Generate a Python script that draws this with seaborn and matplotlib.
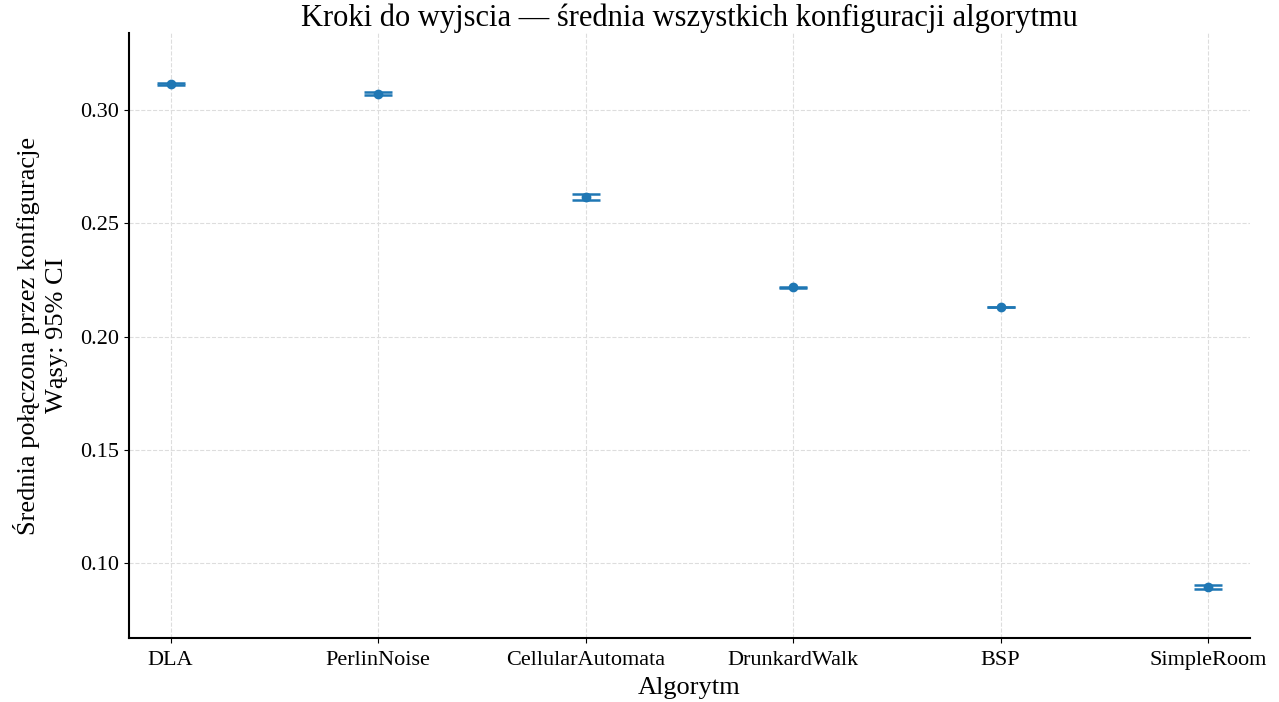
import seaborn as sns
import matplotlib.pyplot as plt
import pandas as pd

# Dane

algorithms = ['DLA', 'PerlinNoise', 'CellularAutomata', 'DrunkardWalk', 'BSP', 'SimpleRoom']
means = [0.3115, 0.3073, 0.2615, 0.2218, 0.2131, 0.0895]
ci_half = [0.0003, 0.0008, 0.0013, 0.0003, 0.0002, 0.0009]

df = pd.DataFrame({'Algorytm': algorithms, 'mean': means, 'ci': ci_half})

sns.set_style('ticks')
plt.rcParams['font.family'] = ['Liberation Serif', 'DejaVu Serif']
plt.rcParams['text.color'] = 'black'
plt.rcParams['axes.labelcolor'] = 'black'

fig, ax = plt.subplots(figsize=(12.79, 7.02), dpi=100)
fig.subplots_adjust(left=0.101, right=0.977, top=0.953, bottom=0.091)

color = '#1f77b4'
ax.errorbar(range(len(df)), df['mean'], yerr=df['ci'], fmt='none',
            ecolor=color, elinewidth=1.5, capsize=10, capthick=1.8, zorder=3)
sns.pointplot(data=df, x='Algorytm', y='mean', linestyle='none', color=color,
              markers='o', markersize=5, errorbar=None, ax=ax, zorder=4)

ax.set_xlim(-0.2, 5.2)
ax.set_ylim(0.067, 0.334)
ax.set_yticks([0.10, 0.15, 0.20, 0.25, 0.30])
ax.grid(True, linestyle='--', color='#dddddd', linewidth=0.8)
ax.set_axisbelow(True)
sns.despine(ax=ax)
for s in ['left', 'bottom']:
    ax.spines[s].set_linewidth(1.5)
    ax.spines[s].set_color('black')

ax.tick_params(labelsize=16, colors='black')
ax.tick_params(axis='x', pad=5.5)
ax.set_xlabel('Algorytm', fontsize=19, labelpad=5)
ax.set_ylabel('Średnia połączona przez konfiguracje\nWąsy: 95% CI', fontsize=19,
              linespacing=1.35, labelpad=9)
ax.set_title('Kroki do wyjscia — średnia wszystkich konfiguracji algorytmu', fontsize=22, pad=5)

fig.savefig('out.png', dpi=100)
